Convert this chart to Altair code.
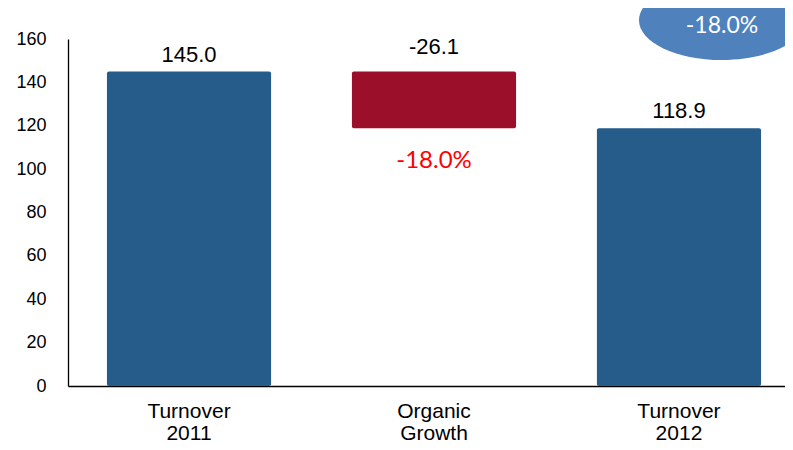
import altair as alt
import pandas as pd

categories = ["Turnover 2011", "Organic Growth", "Turnover 2012"]
bar_start = [0.0, 118.9, 0.0]
bar_end = [145.0, 145.0, 118.9]
value_labels = ["145.0", "-26.1", "118.9"]
bar_kind = ["total", "change", "total"]
growth_label = "-18.0%"

df = pd.DataFrame({
    "cat": categories,
    "start": bar_start,
    "end": bar_end,
    "label": value_labels,
    "kind": bar_kind,
})

FONT = "Liberation Sans"
PCT_FONT = "Lato"

xscale = alt.Scale(domain=categories, range=[0, 732], paddingInner=0.33, paddingOuter=0.159)
yscale = alt.Scale(domain=[0, 160], nice=False)

x_enc = alt.X(
    "cat:N", sort=categories, scale=xscale,
    axis=alt.Axis(
        title=None, labelAngle=0, ticks=False, domainColor="#000000", domainWidth=1.3,
        labelExpr="split(datum.label, ' ')", labelFont=FONT, labelFontSize=21,
        labelColor="#000000", labelPadding=14, labelLineHeight=22, labelBaseline="top",
    ),
)
y_enc = alt.Y(
    "end:Q", scale=yscale,
    axis=alt.Axis(
        title=None, values=list(range(0, 161, 20)), ticks=False, grid=False,
        domainColor="#000000", domainWidth=1.3, labelFont=FONT, labelFontSize=18,
        labelColor="#000000", labelPadding=22,
    ),
)

base = alt.Chart(df)

bars = base.mark_bar(cornerRadius=2).encode(
    x=x_enc,
    y=y_enc,
    y2="start:Q",
    color=alt.Color("kind:N", scale=alt.Scale(domain=["total", "change"], range=["#255C8A", "#9B0F2B"]), legend=None),
)

total_labels = base.transform_filter("datum.kind == 'total'").mark_text(
    font=FONT, fontSize=22, color="#000000", baseline="bottom", dy=-5
).encode(x=alt.X("cat:N", sort=categories, scale=xscale), y=alt.Y("end:Q", scale=yscale), text="label:N")

change_labels = base.transform_filter("datum.kind == 'change'").mark_text(
    font=FONT, fontSize=22, color="#000000", baseline="bottom", dy=-13
).encode(x=alt.X("cat:N", sort=categories, scale=xscale), y=alt.Y("end:Q", scale=yscale), text="label:N")

pct_df = pd.DataFrame({"cat": [categories[1]], "start": [bar_start[1]], "t": [growth_label]})
pct_text = alt.Chart(pct_df).mark_text(
    font=PCT_FONT, fontSize=24, color="#FF0000", baseline="middle", dy=33
).encode(x=alt.X("cat:N", sort=categories, scale=xscale), y=alt.Y("start:Q", scale=yscale), text="t:N")

ell_df = pd.DataFrame({"cat": [categories[2]], "t": [growth_label]})
ellipse_path = "M-1,0A1,0.48,0,1,1,1,0A1,0.48,0,1,1,-1,0Z"
ellipse = alt.Chart(ell_df).mark_point(
    shape=ellipse_path, size=166 * 166, filled=True, color="#4F81BD", opacity=1, strokeWidth=0, xOffset=43
).encode(x=alt.X("cat:N", sort=categories, scale=xscale), y=alt.datum(168.7, scale=yscale))
ell_text = alt.Chart(ell_df).mark_text(
    font=PCT_FONT, fontSize=23, color="#FFFFFF", baseline="middle", xOffset=43, dy=6
).encode(x=alt.X("cat:N", sort=categories, scale=xscale), y=alt.datum(168.7, scale=yscale), text="t:N")

chart = alt.layer(bars, total_labels, change_labels, pct_text, ellipse, ell_text).properties(
    width=717, height=347,
    autosize=alt.AutoSizeParams(type="none"),
    padding={"left": 60, "top": 31, "right": 0, "bottom": 56},
).configure(background="#FFFFFF").configure_view(stroke=None)

chart.save("out.html", embed_options={"renderer": "svg", "actions": False})
